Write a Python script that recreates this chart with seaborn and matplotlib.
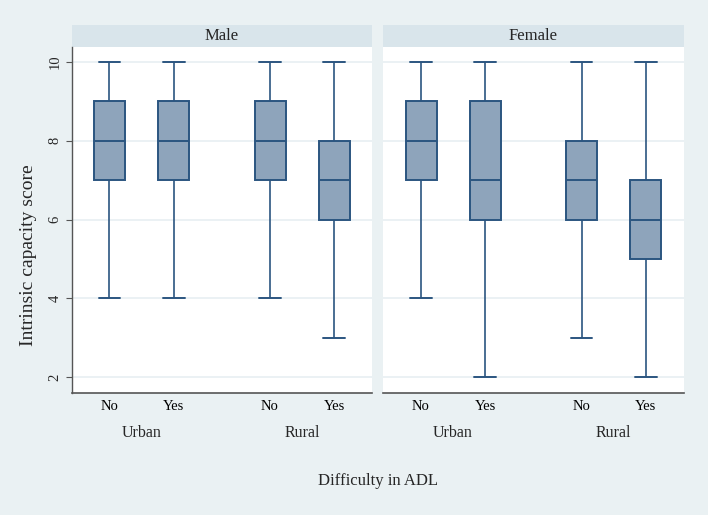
import numpy as np
import pandas as pd
import matplotlib
matplotlib.use("Agg")
import matplotlib.pyplot as plt
from matplotlib.patches import Rectangle
import seaborn as sns

# five-number summaries (min, q1, median, q3, max)
sexes = ["Male", "Female"]
areas = ["Urban", "Rural"]
adl_levels = ["No", "Yes"]

male_urban_no = [4, 7, 8, 9, 10]
male_urban_yes = [4, 7, 8, 9, 10]
male_rural_no = [4, 7, 8, 9, 10]
male_rural_yes = [3, 6, 7, 8, 10]
female_urban_no = [4, 7, 8, 9, 10]
female_urban_yes = [2, 6, 7, 9, 10]
female_rural_no = [3, 6, 7, 8, 10]
female_rural_yes = [2, 5, 6, 7, 10]

y_ticks = [2, 4, 6, 8, 10]

groups = {
    ("Male", "Urban", "No"): male_urban_no,
    ("Male", "Urban", "Yes"): male_urban_yes,
    ("Male", "Rural", "No"): male_rural_no,
    ("Male", "Rural", "Yes"): male_rural_yes,
    ("Female", "Urban", "No"): female_urban_no,
    ("Female", "Urban", "Yes"): female_urban_yes,
    ("Female", "Rural", "No"): female_rural_no,
    ("Female", "Rural", "Yes"): female_rural_yes,
}
rows = []
for (sex, area, adl), vals in groups.items():
    for v in vals:
        rows.append({"sex": sex, "area": area, "adl": adl, "score": v})
df = pd.DataFrame(rows)

# colours (Stata s2color look)
bg = "#eaf1f3"
strip_bg = "#d9e5eb"
fill = "#8ea4bb"
edge = "#2b5580"
grid_c = "#e8eff2"
spine_c = "#555555"

sns.set_theme(style="white")
plt.rcParams["font.family"] = ["Liberation Serif", "DejaVu Serif"]

W, H = 708, 515
fig = plt.figure(figsize=(W / 100, H / 100), dpi=100, facecolor=bg)

ax_w, ax_h = 300.3, 346.0
ax_bottom = 392.7
lefts = [71.7, 383.3]
strip_h = 22.0

width = 0.8
gap = 0.517
box_w = width / len(adl_levels) * (1 - gap)

for i, sex in enumerate(sexes):
    ax = fig.add_axes([lefts[i] / W, 1 - ax_bottom / H, ax_w / W, ax_h / H])
    ax.set_facecolor("white")
    sub = df[df["sex"] == sex]
    sns.boxplot(data=sub, x="area", y="score", hue="adl", order=areas,
                hue_order=adl_levels, palette=[fill, fill], saturation=1,
                width=width, gap=gap, whis=(0, 100), linecolor=edge,
                linewidth=1.4, fliersize=0, legend=False, ax=ax,
                capwidths=box_w * 0.7,
                whiskerprops=dict(linewidth=1.2))

    ax.set_xlim(-0.435, 1.435)
    ax.set_ylim(1.61, 10.38)
    ax.set_yticks(y_ticks)
    ax.yaxis.grid(True, color=grid_c, linewidth=1.2)
    ax.xaxis.grid(False)
    ax.set_axisbelow(True)

    # No / Yes under each box
    pos = [j + s * width / 4 for j in range(len(areas)) for s in (-1, 1)]
    ax.set_xticks(pos)
    ax.set_xticklabels(adl_levels * len(areas), fontsize=10.5)
    ax.tick_params(axis="x", length=0, pad=5.3, colors="black")
    for j, area in enumerate(areas):
        ax.text(j, -(437 - ax_bottom) / ax_h, area, transform=ax.get_xaxis_transform(),
                ha="center", va="baseline", fontsize=11.5)

    ax.set_xlabel("")
    ax.set_ylabel("")
    for s in ["top", "right"]:
        ax.spines[s].set_visible(False)
    ax.spines["bottom"].set_color(spine_c)
    ax.spines["bottom"].set_linewidth(1.2)
    if i == 0:
        ax.spines["left"].set_color(spine_c)
        ax.spines["left"].set_linewidth(1.0)
        ax.tick_params(axis="y", length=4.3, width=0.8, color=spine_c,
                       pad=3, labelsize=10.5, labelrotation=90, left=True)
        for lab in ax.get_yticklabels():
            lab.set_va("center")
    else:
        ax.spines["left"].set_visible(False)
        ax.tick_params(axis="y", left=False, labelleft=False)

    # facet header strip
    ax.add_patch(Rectangle((0, 1), 1, strip_h / ax_h, transform=ax.transAxes,
                           facecolor=strip_bg, edgecolor="none", clip_on=False))
    ax.text(0.5, 1 + strip_h / 2 / ax_h, sex, transform=ax.transAxes,
            ha="center", va="center", fontsize=12)

fig.text(377.6 / W, 1 - 485 / H, "Difficulty in ADL", ha="center",
         va="baseline", fontsize=12)
fig.text(28.8 / W, 1 - 255.5 / H, "Intrinsic capacity score", rotation=90,
         ha="center", va="center", fontsize=14)

fig.savefig("out.png", dpi=100, facecolor=bg)
